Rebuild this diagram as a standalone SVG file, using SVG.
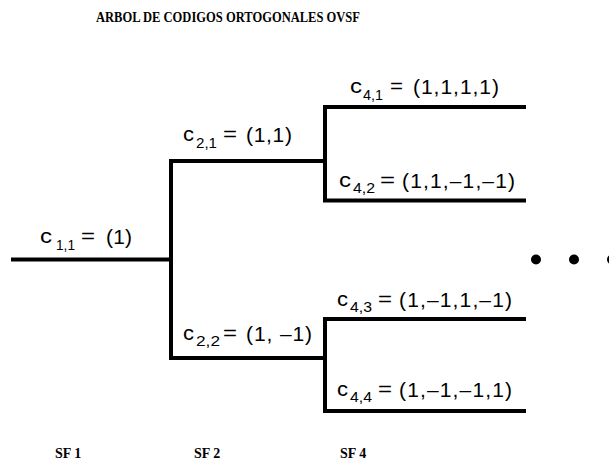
<svg xmlns="http://www.w3.org/2000/svg" width="609" height="462" viewBox="0 0 609 462">
<style>
.ttl{font-family:"Liberation Serif","Times New Roman",serif;font-weight:bold;font-size:14px;fill:#000}
.lbl{font-family:"Liberation Sans",Arial,sans-serif;font-size:21px;fill:#000}
.sub{font-size:15px}
.ln{stroke:#000;stroke-width:4;fill:none;stroke-linecap:square}
</style>
<rect width="609" height="462" fill="#fff"/>
<text class="ttl" x="96" y="22" textLength="264" lengthAdjust="spacingAndGlyphs">ARBOL DE CODIGOS ORTOGONALES OVSF</text>
<g id="connectors">
<path class="ln" d="M13,259.5 H171 M171,161 V358 M171,161 H325 M171,358 H325 M325,107 V200.5 M325,107 H524 M325,200.5 H524 M325,319 V411 M325,319 H524 M325,411 H524"/>
</g>
<g id="c11">
<text class="lbl"><tspan x="40" y="243" textLength="12" lengthAdjust="spacingAndGlyphs">c</tspan><tspan class="sub" x="56" y="250" textLength="19" lengthAdjust="spacingAndGlyphs">1,1</tspan><tspan x="81" y="243" textLength="14" lengthAdjust="spacingAndGlyphs">=</tspan><tspan x="106" y="244" textLength="26">(1)</tspan></text>
</g>
<g id="c21">
<text class="lbl"><tspan x="183" y="141" textLength="11" lengthAdjust="spacingAndGlyphs">c</tspan><tspan class="sub" x="196" y="148" textLength="21" lengthAdjust="spacingAndGlyphs">2,1</tspan><tspan x="223" y="141" textLength="14" lengthAdjust="spacingAndGlyphs">=</tspan><tspan x="246" y="142" textLength="46">(1,1)</tspan></text>
</g>
<g id="c22">
<text class="lbl"><tspan x="183" y="340" textLength="11" lengthAdjust="spacingAndGlyphs">c</tspan><tspan class="sub" x="196" y="346" textLength="24" lengthAdjust="spacingAndGlyphs">2,2</tspan><tspan x="223" y="340" textLength="14" lengthAdjust="spacingAndGlyphs">=</tspan><tspan x="246" y="341" textLength="66">(1, –1)</tspan></text>
</g>
<g id="c41">
<text class="lbl"><tspan x="350" y="93" textLength="12" lengthAdjust="spacingAndGlyphs">c</tspan><tspan class="sub" x="363" y="100" textLength="20" lengthAdjust="spacingAndGlyphs">4,1</tspan><tspan x="390" y="93" textLength="13" lengthAdjust="spacingAndGlyphs">=</tspan><tspan x="413" y="94" textLength="86">(1,1,1,1)</tspan></text>
</g>
<g id="c42">
<text class="lbl"><tspan x="339" y="187" textLength="12" lengthAdjust="spacingAndGlyphs">c</tspan><tspan class="sub" x="353" y="193" textLength="22" lengthAdjust="spacingAndGlyphs">4,2</tspan><tspan x="380" y="187" textLength="15" lengthAdjust="spacingAndGlyphs">=</tspan><tspan x="402" y="188" textLength="113">(1,1,–1,–1)</tspan></text>
</g>
<g id="c43">
<text class="lbl"><tspan x="337" y="306" textLength="11" lengthAdjust="spacingAndGlyphs">c</tspan><tspan class="sub" x="350" y="312" textLength="22" lengthAdjust="spacingAndGlyphs">4,3</tspan><tspan x="378" y="306" textLength="14" lengthAdjust="spacingAndGlyphs">=</tspan><tspan x="399" y="307" textLength="113">(1,–1,1,–1)</tspan></text>
</g>
<g id="c44">
<text class="lbl"><tspan x="337" y="396" textLength="11" lengthAdjust="spacingAndGlyphs">c</tspan><tspan class="sub" x="350" y="402" textLength="22" lengthAdjust="spacingAndGlyphs">4,4</tspan><tspan x="378" y="396" textLength="14" lengthAdjust="spacingAndGlyphs">=</tspan><tspan x="399" y="397" textLength="113">(1,–1,–1,1)</tspan></text>
</g>
<g id="dots">
<circle cx="536" cy="259.5" r="5"/>
<circle cx="574" cy="259.5" r="5"/>
<circle cx="612" cy="259.5" r="5"/>
</g>
<g id="sf">
<text class="ttl" x="55" y="458">SF 1</text>
<text class="ttl" x="194" y="458">SF 2</text>
<text class="ttl" x="340" y="458">SF 4</text>
</g>
</svg>
